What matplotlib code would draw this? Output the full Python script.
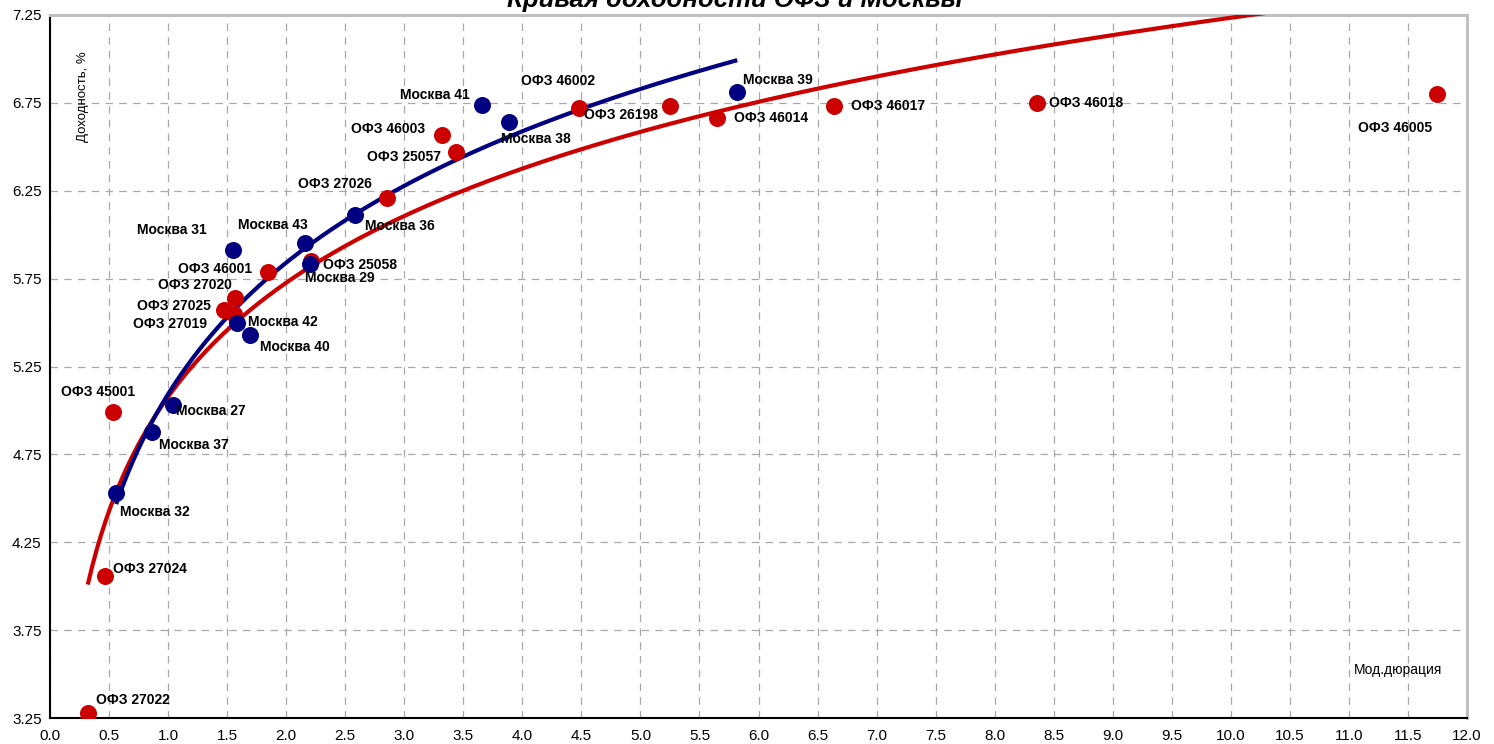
import matplotlib.pyplot as plt
import numpy as np

plt.rcParams['font.family'] = ['Liberation Sans', 'DejaVu Sans']

# ОФЗ (red)
ofz_names = ['ОФЗ 27022', 'ОФЗ 27024', 'ОФЗ 45001', 'ОФЗ 27025', 'ОФЗ 27019',
             'ОФЗ 27020', 'ОФЗ 46001', 'ОФЗ 25058', 'ОФЗ 27026', 'ОФЗ 46003',
             'ОФЗ 25057', 'ОФЗ 46002', 'ОФЗ 26198', 'ОФЗ 46014', 'ОФЗ 46017',
             'ОФЗ 46018', 'ОФЗ 46005']
ofz_dur = [0.32, 0.47, 0.53, 1.47, 1.56, 1.57, 1.85, 2.21, 2.85, 3.32,
           3.44, 4.48, 5.25, 5.65, 6.64, 8.36, 11.75]
ofz_yield = [3.28, 4.06, 4.99, 5.57, 5.55, 5.64, 5.79, 5.85, 6.21, 6.57,
             6.47, 6.72, 6.73, 6.665, 6.73, 6.75, 6.80]

# Москва (blue)
msk_names = ['Москва 32', 'Москва 37', 'Москва 27', 'Москва 42', 'Москва 40',
             'Москва 31', 'Москва 43', 'Москва 29', 'Москва 36', 'Москва 41',
             'Москва 38', 'Москва 39']
msk_dur = [0.56, 0.86, 1.04, 1.58, 1.69, 1.55, 2.16, 2.20, 2.58, 3.66, 3.89, 5.82]
msk_yield = [4.53, 4.88, 5.03, 5.50, 5.43, 5.915, 5.95, 5.835, 6.11, 6.74, 6.64, 6.81]

# label offsets in pixels (layout only)
ofz_off = [(8, 13), (8, 7), (-52, 20), (-87, 4), (-101, -10), (-77, 13), (-90, 3),
           (12, -4), (-89, 14), (-91, 6), (-89, -5), (-58, 27), (-86, -9),
           (17, 0), (17, 0), (12, 0), (-79, -34)]
msk_off = [(4, -19), (7, -13), (3, -6), (11, 1), (10, -12), (-96, 20), (-67, 18),
           (-5, -14), (10, -11), (-82, 10), (-8, -17), (6, 12)]

RED = '#cc0000'
BLUE = '#000080'

fig = plt.figure(figsize=(14.94, 7.44), dpi=100)
ax = fig.add_axes([50/1494, 1-718/744, (1467-50)/1494, (718-15)/744])

# logarithmic trendlines (least squares on ln x, like Excel)
for xs, ys, col in [(ofz_dur, ofz_yield, RED), (msk_dur, msk_yield, BLUE)]:
    b, a = np.polyfit(np.log(xs), ys, 1)
    xx = np.linspace(min(xs), max(xs), 300)
    ax.plot(xx, a + b*np.log(xx), color=col, lw=3, zorder=3, solid_capstyle='butt')

ax.scatter(ofz_dur, ofz_yield, s=150, color=RED, zorder=4, linewidths=0)
ax.scatter(msk_dur, msk_yield, s=150, color=BLUE, zorder=4, linewidths=0)

for names, xs, ys, offs in [(ofz_names, ofz_dur, ofz_yield, ofz_off),
                            (msk_names, msk_dur, msk_yield, msk_off)]:
    for n, x, y, (dx, dy) in zip(names, xs, ys, offs):
        ax.annotate(n, (x, y), xytext=(dx, dy), textcoords='offset pixels',
                    ha='left', va='center', fontsize=10, fontweight='bold', zorder=5)

ax.set_xlim(0, 12)
ax.set_ylim(3.25, 7.25)
ax.set_xticks(np.arange(0, 12.01, 0.5))
ax.set_yticks(np.arange(3.25, 7.26, 0.5))
ax.set_xticklabels([f'{v:.1f}' for v in np.arange(0, 12.01, 0.5)])
ax.set_yticklabels([f'{v:.2f}' for v in np.arange(3.25, 7.26, 0.5)])
ax.tick_params(length=0, labelsize=11)
ax.tick_params(axis='x', pad=8)
ax.tick_params(axis='y', pad=6)
ax.grid(True, color='#a8a8a8', ls=(0, (6, 5)), lw=0.9)

for s in ['left', 'bottom']:
    ax.spines[s].set_color('black')
    ax.spines[s].set_linewidth(1.5)
for s in ['top', 'right']:
    ax.spines[s].set_color('#c0c0c0')
    ax.spines[s].set_linewidth(2.2)

fig.text(83/1494, 1-97/744, 'Доходность, %', rotation=90, ha='center', va='center',
         fontsize=9.5)
fig.text(1354/1494, 1-670/744, 'Мод.дюрация', ha='left', va='center', fontsize=10)
fig.text(735/1494, 1-7/744, 'Кривая доходности ОФЗ и Москвы', ha='center',
         va='baseline', fontsize=18.5, fontweight='bold', fontstyle='italic')

fig.savefig('out.png', dpi=100)
